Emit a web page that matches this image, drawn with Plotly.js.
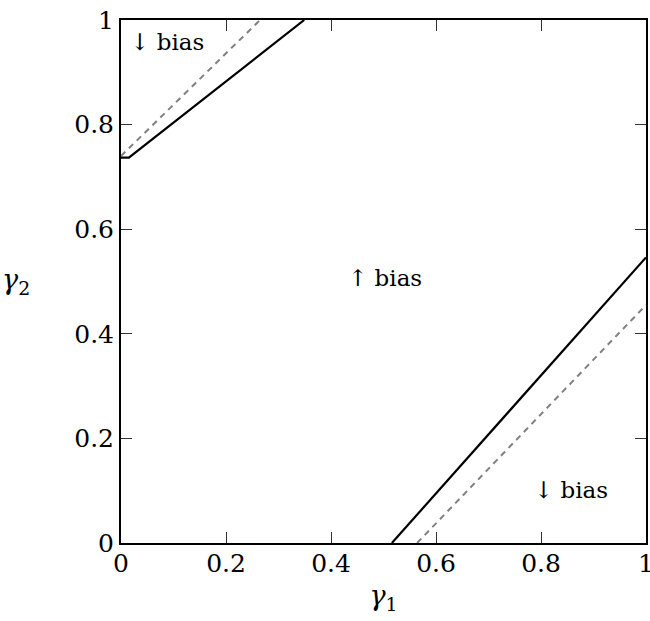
<!DOCTYPE html>
<html>
<head>
<meta charset="utf-8">
<script src="https://cdn.plot.ly/plotly-3.0.1.min.js"></script>
<style>html,body{margin:0;padding:0;background:#fff;}#chart{width:650px;height:621px;}</style>
</head>
<body>
<div id="chart"></div>
<script>
// Boundary curves (gamma1, gamma2)
const upperSolidX = [0, 0.015, 0.349];
const upperSolidY = [0.737, 0.737, 1];
const upperDashX = [0, 0.265];
const upperDashY = [0.74, 1];
const lowerSolidX = [0.516, 1];
const lowerSolidY = [0, 0.546];
const lowerDashX = [0.564, 1];
const lowerDashY = [0, 0.455];
const tickVals = [0, 0.2, 0.4, 0.6, 0.8, 1];
const tickText = ["0", "0.2", "0.4", "0.6", "0.8", "1"];
const labelText = ["\u2193\uFE0E bias", "\u2191\uFE0E bias", "\u2193\uFE0E bias"];
const labelX = [0.088, 0.503, 0.857];
const labelY = [0.953, 0.503, 0.098];

const FAM = "DejaVu Serif";
function mkFont(size) { return {family: FAM, size: size, color: "#000000"}; }

const traces = [
  {x: upperDashX, y: upperDashY, mode: "lines", line: {color: "#808080", width: 2, dash: "6px,5px"}, hoverinfo: "skip"},
  {x: lowerDashX, y: lowerDashY, mode: "lines", line: {color: "#808080", width: 2, dash: "6px,5px"}, hoverinfo: "skip"},
  {x: upperSolidX, y: upperSolidY, mode: "lines", line: {color: "#000", width: 2.2}, hoverinfo: "skip"},
  {x: lowerSolidX, y: lowerSolidY, mode: "lines", line: {color: "#000", width: 2.2}, hoverinfo: "skip"},
  {x: labelX, y: labelY, mode: "text", text: labelText, textfont: mkFont(23), textposition: "middle center", hoverinfo: "skip"}
];

function axis(extra) {
  return Object.assign({
    range: [0, 1], tickmode: "array", tickvals: tickVals, ticktext: tickText, ticks: "inside", ticklen: 11,
    tickcolor: "#000", tickwidth: 0.8, showline: true, linecolor: "#000", linewidth: 2,
    mirror: "ticks", showgrid: false, zeroline: false, tickfont: mkFont(25),
    ticklabeloverflow: "allow", fixedrange: true, automargin: false
  }, extra);
}

const layout = {
  width: 650, height: 621,
  margin: {l: 121, r: 4, t: 20, b: 78},
  paper_bgcolor: "#fff", plot_bgcolor: "#fff",
  showlegend: false, font: mkFont(25),
  xaxis: axis({title: {text: "<i>γ</i><sub>1</sub>", font: mkFont(27), standoff: 9}, ticklabelstandoff: -3}),
  yaxis: axis({}),
  annotations: [
    {text: "<i>γ</i><sub>2</sub>", xref: "paper", yref: "paper", x: -0.2, y: 0.5, xanchor: "center", yanchor: "middle", showarrow: false, font: mkFont(27)}
  ]
};

Plotly.newPlot("chart", traces, layout, {staticPlot: true, displayModeBar: false});
</script>
</body>
</html>
